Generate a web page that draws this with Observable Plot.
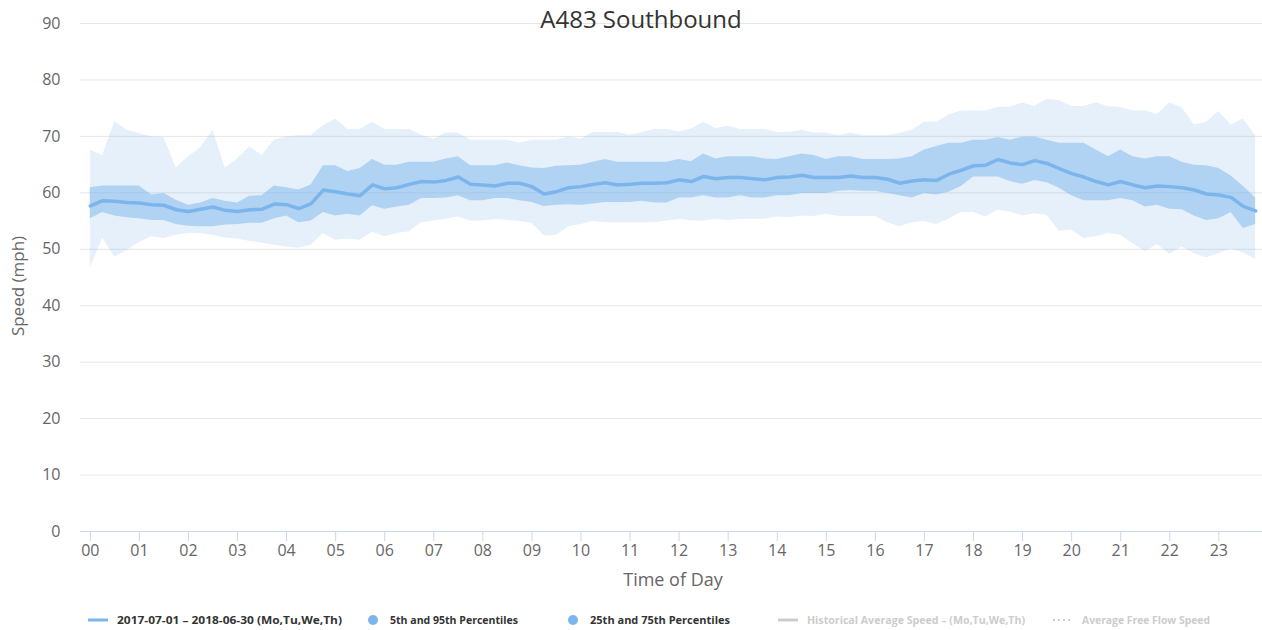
<!DOCTYPE html>
<html><head><meta charset="utf-8">
<script src="https://cdn.jsdelivr.net/npm/d3@7"></script>
<script src="https://cdn.jsdelivr.net/npm/@observablehq/plot@0.6"></script>
<style>body{margin:0;background:#fff;} #chart{width:1262px;height:630px;}</style>
</head><body><div id="chart"></div>
<script>
// 15-minute intervals, hour of day
const hours = d3.range(96).map(i => i / 4);
const xTicks = d3.range(0, 24);
const yTicks = d3.range(0, 100, 10);

const meanSpeed = [57.7,58.6,58.5,58.3,58.2,57.9,57.8,57.0,56.7,57.1,57.5,56.9,56.7,57.0,57.1,58.0,57.9,57.2,58.1,
60.5,60.2,59.8,59.5,61.4,60.7,60.9,61.5,62.0,61.9,62.2,62.8,61.5,61.4,61.2,61.7,61.7,61.1,59.8,
60.2,60.9,61.1,61.5,61.8,61.4,61.5,61.7,61.7,61.8,62.3,62.0,62.9,62.5,62.7,62.7,62.5,62.3,62.7,62.8,
63.1,62.7,62.7,62.7,63.0,62.7,62.7,62.4,61.7,62.1,62.3,62.2,63.3,64.0,64.8,64.9,65.9,65.3,
65.0,65.7,65.2,64.3,63.4,62.8,62.0,61.4,62.0,61.4,60.9,61.2,61.1,60.9,60.5,59.8,59.6,59.2,57.6,56.8];

const p75 = [60.9,61.2,61.2,61.2,61.2,59.6,59.9,58.7,57.8,58.2,59.0,58.5,58.2,59.4,59.5,61.2,60.9,60.5,61.4,
64.8,64.8,63.8,64.3,65.9,64.9,64.9,65.4,65.4,65.4,66.0,66.4,64.8,64.8,64.8,65.3,64.8,64.4,64.3,
64.7,64.8,64.9,65.4,65.9,65.4,65.4,65.4,65.4,65.4,65.9,65.5,66.9,66.0,66.4,66.4,66.4,66.0,65.9,66.4,
66.9,66.6,65.9,66.4,66.4,65.9,65.9,65.9,66.0,66.4,67.6,68.2,68.8,68.8,69.3,69.3,69.8,69.3,
69.9,69.9,69.3,68.8,68.8,68.8,67.6,66.4,67.6,66.4,66.0,66.4,66.4,65.4,64.9,64.8,64.3,63.0,61.1,59.1];

const p25 = [55.4,56.5,55.9,55.6,55.4,55.1,55.1,54.4,54.1,54.0,54.0,54.3,54.4,54.6,54.6,55.4,55.9,54.7,55.0,
56.5,55.9,56.2,55.9,57.7,57.1,57.5,57.8,59.0,59.0,59.1,59.5,58.6,58.6,59.0,59.0,58.6,58.3,57.6,
57.8,57.9,57.8,58.0,58.3,58.3,58.3,58.5,58.2,58.2,59.1,59.1,59.5,59.1,59.1,59.5,59.1,59.1,59.5,59.5,
59.9,59.9,59.9,60.3,60.4,60.3,60.3,59.9,59.5,59.1,59.9,59.6,60.1,61.1,62.8,62.8,62.8,62.0,
61.5,62.2,61.8,60.8,59.5,58.6,58.6,58.6,59.0,58.6,57.5,57.8,57.1,57.0,55.9,55.1,55.4,56.5,53.7,54.4];

const p95 = [67.6,66.6,72.6,71.1,70.5,69.9,69.8,64.4,66.4,68.0,71.1,64.4,66.0,68.1,66.6,69.3,69.9,70.1,70.1,
71.9,73.1,71.2,71.2,72.5,71.2,71.2,71.2,70.2,69.5,70.6,70.6,69.3,69.3,69.3,69.3,68.8,69.3,69.3,
69.3,69.9,69.5,70.7,70.7,70.7,70.2,70.7,71.2,71.2,70.8,71.3,72.5,71.4,71.8,71.2,71.2,71.2,70.7,70.7,
71.1,70.6,70.6,70.1,70.6,70.1,70.1,70.1,70.5,71.1,72.5,72.5,73.8,74.5,74.5,74.5,75.1,75.2,
75.9,75.3,76.6,76.3,75.3,75.3,75.9,75.3,75.1,74.5,74.5,73.9,75.9,75.1,72.0,72.5,74.4,72.0,73.1,70.1];

const p5 = [46.7,52.0,48.6,49.8,51.2,52.2,51.9,52.5,52.8,52.8,52.5,52.0,51.8,51.4,51.1,50.7,50.4,50.2,50.7,
52.8,51.6,51.8,51.6,53.0,52.2,52.8,53.1,54.7,55.0,55.3,55.7,55.0,55.0,55.3,55.1,54.9,54.6,52.4,
52.5,54.0,54.4,54.9,54.7,54.7,54.7,54.7,54.7,55.0,55.3,55.0,55.0,55.3,55.1,55.3,55.3,55.3,55.7,55.6,
55.9,55.8,56.2,55.8,55.8,55.8,55.8,54.7,54.0,54.7,54.9,54.4,55.3,56.5,56.5,55.7,56.9,56.6,
55.9,56.3,56.0,53.2,53.4,51.9,52.2,52.8,52.5,51.0,49.6,50.8,49.1,50.4,49.2,48.5,49.2,50.0,49.4,48.2];

const titleText = "A483 Southbound";
const yTitle = "Speed (mph)";
const xTitle = "Time of Day";
const legendItems = [
  {label: "2017-07-01 – 2018-06-30 (Mo,Tu,We,Th)", symbol: "line", color: "#7cb5ec", text: "#333", x: 88, w: 225},
  {label: "5th and 95th Percentiles", symbol: "dot", color: "#7cb5ec", text: "#333", x: 368, w: 128},
  {label: "25th and 75th Percentiles", symbol: "dot", color: "#7cb5ec", text: "#333", x: 568, w: 140},
  {label: "Historical Average Speed – (Mo,Tu,We,Th)", symbol: "line", color: "#cccccc", text: "#cccccc", x: 778, w: 218},
  {label: "Average Free Flow Speed", symbol: "dots", color: "#cccccc", text: "#cccccc", x: 1053, w: 128}
];

const data = hours.map((h, i) => ({h, mean: meanSpeed[i], p5: p5[i], p95: p95[i], p25: p25[i], p75: p75[i]}));
const font = "'Open Sans', sans-serif";
const W = 1262, H = 630, ML = 80, MR = 0, MT = 23, MB = 99;

const plot = Plot.plot({
  width: W, height: H, marginLeft: ML, marginRight: MR, marginTop: MT, marginBottom: MB,
  style: {fontFamily: font, background: "#fff", overflow: "visible"},
  x: {domain: [-0.2, 23.89]},
  y: {domain: [0, 90]},
  marks: [
    Plot.gridY(yTicks.filter(d => d > 0), {stroke: "#e6e6e6", strokeOpacity: 1}),
    Plot.areaY(data, {x: "h", y1: "p5", y2: "p95", fill: "#7cb5ec", fillOpacity: 0.2}),
    Plot.areaY(data, {x: "h", y1: "p25", y2: "p75", fill: "#7cb5ec", fillOpacity: 0.5}),
    Plot.lineY(data, {x: "h", y: "mean", stroke: "#7cb5ec", strokeWidth: 3.5}),
    Plot.ruleY([0], {stroke: "#ccd6eb"}),
    Plot.axisY({ticks: yTicks, tickSize: 0, tickPadding: 20, fontSize: 16, fill: "#666", label: null}),
    Plot.axisX({ticks: xTicks, tickSize: 10, tickPadding: 3, stroke: "#ccd6eb", strokeOpacity: 1, tickFormat: d3.format("02d"), fontSize: 16, fill: "#666", label: null})
  ]
});
document.getElementById("chart").appendChild(plot);

const svg = d3.select(plot);
svg.append("text").attr("x", 641).attr("y", 28).attr("text-anchor", "middle")
  .attr("font-family", font).attr("font-size", 24).attr("fill", "#333").text(titleText);
svg.append("text").attr("transform", "translate(24,286) rotate(-90)").attr("text-anchor", "middle")
  .attr("font-family", font).attr("font-size", 17).attr("fill", "#666").text(yTitle);
svg.append("text").attr("x", 673).attr("y", 586).attr("text-anchor", "middle")
  .attr("font-family", font).attr("font-size", 18).attr("fill", "#666").text(xTitle);

const lg = svg.append("g").attr("text-anchor", "start");
const ly = 620;
legendItems.forEach(it => {
  let tx;
  if (it.symbol === "dot") {
    lg.append("circle").attr("cx", it.x + 5).attr("cy", ly).attr("r", 5).attr("fill", it.color);
    tx = it.x + 22;
  } else {
    lg.append("line").attr("x1", it.x).attr("x2", it.x + 20).attr("y1", ly).attr("y2", ly)
      .attr("stroke", it.color).attr("stroke-width", it.symbol === "line" ? 3 : 2)
      .attr("stroke-dasharray", it.symbol === "dots" ? "2,3" : null);
    tx = it.x + 29;
  }
  lg.append("text").attr("x", tx).attr("y", ly + 4).attr("text-anchor", "start").attr("font-family", font)
    .attr("font-size", 11).attr("font-weight", "bold").attr("fill", it.text)
    .attr("textLength", it.w).attr("lengthAdjust", "spacingAndGlyphs").text(it.label);
});
</script>
</body></html>
